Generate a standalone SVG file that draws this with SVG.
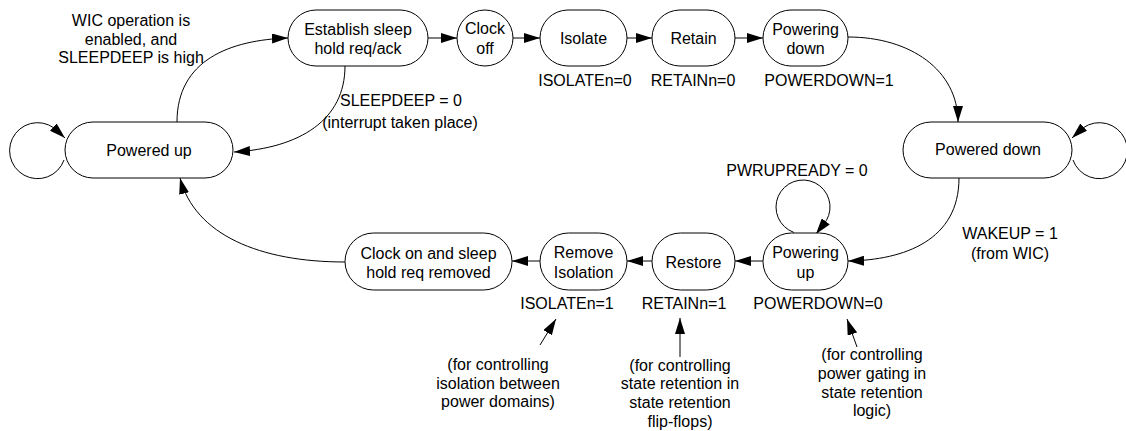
<svg xmlns="http://www.w3.org/2000/svg" width="1126" height="431" viewBox="0 0 1126 431">
<defs>
<style>
.n{fill:#fff;stroke:#000;stroke-width:1}
.t{font-family:"Liberation Sans",Arial,sans-serif;font-size:16px;fill:#000;text-anchor:middle}
.c{fill:none;stroke:#000;stroke-width:1;marker-end:url(#ah)}
</style>
<marker id="ah" markerUnits="userSpaceOnUse" markerWidth="16" markerHeight="10" refX="16" refY="5" orient="auto">
<path d="M0,0 L16,5 L0,10 Z" fill="#000"/>
</marker>
</defs>
<rect width="1126" height="431" fill="#fff"/>
<g id="connectors">
<path class="c" d="M428,38 L457,38"/>
<path class="c" d="M513,38 L540,38"/>
<path class="c" d="M627,38 L652,38"/>
<path class="c" d="M735,38 L763,38"/>
<path class="c" d="M848,37 C910,37 958,70 958,122"/>
<path class="c" d="M959,178 C959,240 905,260 848,261"/>
<path class="c" d="M763,261 L735,261"/>
<path class="c" d="M652,261 L627,261"/>
<path class="c" d="M540,261 L512,261"/>
<path class="c" d="M345,262 C260,262 195,235 180,178"/>
<path class="c" d="M177,122 C177,60 230,40 288,38"/>
<path class="c" d="M345,66 C345,120 300,148 234,152"/>
<path class="c" d="M64,160 A28,28 0 1 1 58.3,131.8 L65,138"/>
<path class="c" d="M1073,160 A28,28 0 1 0 1078.7,131.8 L1072,138"/>
<path class="c" d="M793.8,232.4 A27,27 0 1 1 826.4,220.5 L816,234"/>
<path class="c" d="M540,345 L556,319"/>
<path class="c" d="M680,357 L680,318"/>
<path class="c" d="M857,347 L847,319"/>
</g>
<g id="powered-up">
<rect class="n" x="65" y="122" width="168" height="56" rx="28"/>
<text class="t" x="149" y="155.5">Powered up</text>
</g>
<g id="establish">
<rect class="n" x="288" y="10" width="140" height="56" rx="28"/>
<text class="t" x="358" y="34.5">Establish sleep</text>
<text class="t" x="358" y="53.5">hold req/ack</text>
</g>
<g id="clock-off">
<rect class="n" x="457" y="10" width="56" height="56" rx="28"/>
<text class="t" x="485" y="34">Clock</text>
<text class="t" x="485" y="53.5">off</text>
</g>
<g id="isolate">
<rect class="n" x="540" y="10" width="87" height="56" rx="28"/>
<text class="t" x="583.5" y="43.5">Isolate</text>
<text class="t" x="585" y="86">ISOLATEn=0</text>
</g>
<g id="retain">
<rect class="n" x="652" y="10" width="83" height="56" rx="28"/>
<text class="t" x="693.5" y="43.5">Retain</text>
<text class="t" x="693" y="86">RETAINn=0</text>
</g>
<g id="powering-down">
<rect class="n" x="763" y="10" width="85" height="56" rx="28"/>
<text class="t" x="805.5" y="34.5">Powering</text>
<text class="t" x="805.5" y="53.5">down</text>
<text class="t" x="829" y="86">POWERDOWN=1</text>
</g>
<g id="powered-down">
<rect class="n" x="903" y="122" width="169" height="56" rx="28"/>
<text class="t" x="988" y="155">Powered down</text>
</g>
<g id="powering-up">
<rect class="n" x="763" y="233" width="85" height="57" rx="28.5"/>
<text class="t" x="805.5" y="257.5">Powering</text>
<text class="t" x="805.5" y="277.5">up</text>
<text class="t" x="818" y="309">POWERDOWN=0</text>
</g>
<g id="restore">
<rect class="n" x="652" y="233" width="83" height="57" rx="28.5"/>
<text class="t" x="693.5" y="267.5">Restore</text>
<text class="t" x="684" y="309">RETAINn=1</text>
</g>
<g id="remove-isolation">
<rect class="n" x="540" y="233" width="87" height="57" rx="28.5"/>
<text class="t" x="583.5" y="257.5">Remove</text>
<text class="t" x="583.5" y="277.5">Isolation</text>
<text class="t" x="567" y="309">ISOLATEn=1</text>
</g>
<g id="clock-on">
<rect class="n" x="345" y="233" width="167" height="57" rx="28.5"/>
<text class="t" x="428.5" y="258.5">Clock on and sleep</text>
<text class="t" x="428.5" y="277.5">hold req removed</text>
</g>
<g id="labels">
<text class="t" x="131" y="26">WIC operation is</text>
<text class="t" x="131" y="45">enabled, and</text>
<text class="t" x="131" y="63">SLEEPDEEP is high</text>
<text class="t" x="401" y="106">SLEEPDEEP = 0</text>
<text class="t" x="400" y="128">(interrupt taken place)</text>
<text class="t" x="797" y="176">PWRUPREADY = 0</text>
<text class="t" x="1010" y="239">WAKEUP = 1</text>
<text class="t" x="1010" y="259">(from WIC)</text>
<text class="t" x="498" y="370">(for controlling</text>
<text class="t" x="498" y="389">isolation between</text>
<text class="t" x="498" y="407">power domains)</text>
<text class="t" x="680" y="371">(for controlling</text>
<text class="t" x="680" y="389">state retention in</text>
<text class="t" x="680" y="408">state retention</text>
<text class="t" x="680" y="427">flip-flops)</text>
<text class="t" x="872" y="360">(for controlling</text>
<text class="t" x="872" y="379">power gating in</text>
<text class="t" x="872" y="398">state retention</text>
<text class="t" x="872" y="416">logic)</text>
</g>
</svg>
